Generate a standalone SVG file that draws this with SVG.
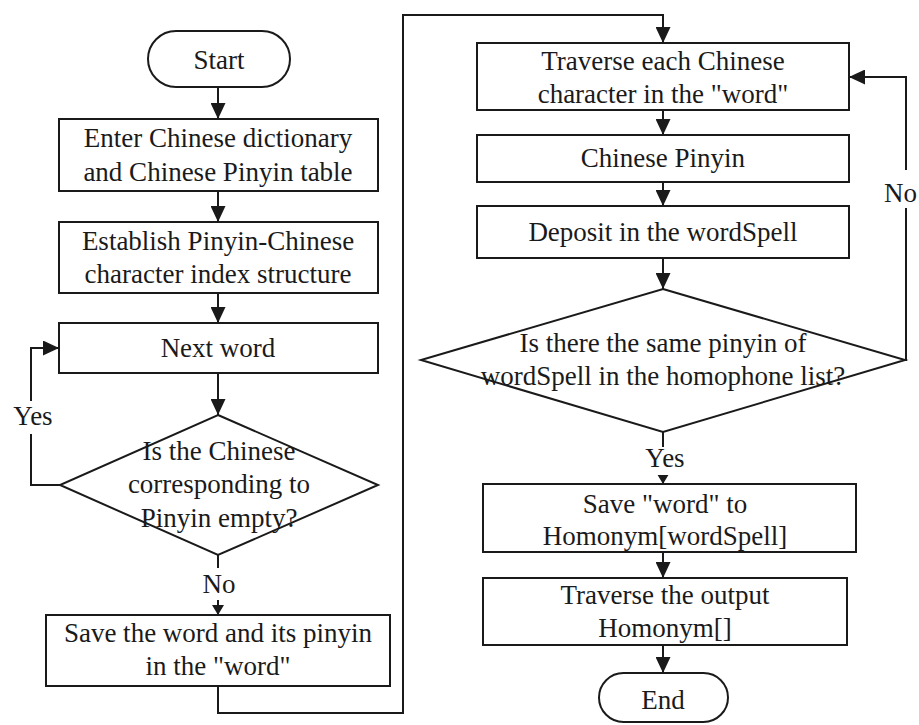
<svg xmlns="http://www.w3.org/2000/svg" width="919" height="725" viewBox="0 0 919 725">
<defs>
<style>
.box{fill:#fff;stroke:#1a1a1a;stroke-width:2}
.ln{fill:none;stroke:#1a1a1a;stroke-width:2}
.t{font-family:"Liberation Serif","Times New Roman",serif;font-size:27px;fill:#1a1a1a;text-anchor:middle}
.lbl{font-family:"Liberation Serif","Times New Roman",serif;font-size:27px;fill:#1a1a1a}
</style>
<marker id="ah" viewBox="0 0 16 15" refX="16" refY="7.5" markerWidth="16" markerHeight="15" orient="auto" markerUnits="userSpaceOnUse">
<path d="M0,0 L16,7.5 L0,15 Z" fill="#1a1a1a"/>
</marker>
<marker id="ahs" viewBox="0 0 10 12" refX="10" refY="6" markerWidth="10" markerHeight="12" orient="auto" markerUnits="userSpaceOnUse">
<path d="M0,0 L10,6 L0,12 Z" fill="#1a1a1a"/>
</marker>
</defs>
<rect width="919" height="725" fill="#fff"/>

<g id="connectors">
<path class="ln" d="M218,87 V119" marker-end="url(#ah)"/>
<path class="ln" d="M218,191 V222" marker-end="url(#ah)"/>
<path class="ln" d="M218,293 V323" marker-end="url(#ah)"/>
<path class="ln" d="M218,373 V415" marker-end="url(#ah)"/>
<path class="ln" d="M60,485 H31 V348 H59" marker-end="url(#ah)"/>
<path class="ln" d="M218,555 V615" marker-end="url(#ahs)"/>
<path class="ln" d="M218,686 V713 H403 V15 H663 V43" marker-end="url(#ah)"/>
<path class="ln" d="M663,110 V135" marker-end="url(#ah)"/>
<path class="ln" d="M663,182 V206" marker-end="url(#ah)"/>
<path class="ln" d="M663,258 V289" marker-end="url(#ah)"/>
<path class="ln" d="M905,360 H906 V77 H849" marker-end="url(#ah)"/>
<path class="ln" d="M663,432 V484" marker-end="url(#ahs)"/>
<path class="ln" d="M663,552 V578" marker-end="url(#ah)"/>
<path class="ln" d="M663,645 V673" marker-end="url(#ah)"/>
<rect x="12" y="401" width="42" height="33" fill="#fff"/>
<text class="lbl" x="33" y="425" text-anchor="middle">Yes</text>
<rect x="200" y="568" width="36" height="32" fill="#fff"/>
<text class="lbl" x="219" y="593" text-anchor="middle">No</text>
<rect x="882" y="170" width="37" height="38" fill="#fff"/>
<text class="lbl" x="884" y="202">No</text>
<rect x="642" y="447" width="46" height="28" fill="#fff"/>
<text class="lbl" x="665" y="467" text-anchor="middle">Yes</text>
</g>

<g id="start">
<rect class="box" x="148" y="31" width="142" height="56" rx="28" ry="28"/>
<text class="t" x="219" y="69">Start</text>
</g>
<g id="enter-dictionary">
<rect class="box" x="59" y="119" width="319" height="72"/>
<text class="t" x="218" y="147">Enter Chinese dictionary</text>
<text class="t" x="218" y="181">and Chinese Pinyin table</text>
</g>
<g id="establish-index">
<rect class="box" x="59" y="222" width="319" height="71"/>
<text class="t" x="218" y="250">Establish Pinyin-Chinese</text>
<text class="t" x="218" y="283">character index structure</text>
</g>
<g id="next-word">
<rect class="box" x="59" y="323" width="319" height="50"/>
<text class="t" x="218" y="357">Next word</text>
</g>
<g id="is-empty">
<polygon class="box" points="218,415 378,485 218,555 60,485"/>
<text class="t" x="219" y="460">Is the Chinese</text>
<text class="t" x="219" y="493">corresponding to</text>
<text class="t" x="219" y="527">Pinyin empty?</text>
</g>
<g id="save-word">
<rect class="box" x="46" y="615" width="344" height="71"/>
<text class="t" x="218" y="642">Save the word and its pinyin</text>
<text class="t" x="218" y="675">in the "word"</text>
</g>
<g id="traverse-each">
<rect class="box" x="477" y="43" width="372" height="67"/>
<text class="t" x="663" y="70">Traverse each Chinese</text>
<text class="t" x="663" y="103">character in the "word"</text>
</g>
<g id="chinese-pinyin">
<rect class="box" x="477" y="135" width="372" height="47"/>
<text class="t" x="663" y="167">Chinese Pinyin</text>
</g>
<g id="deposit">
<rect class="box" x="477" y="206" width="372" height="52"/>
<text class="t" x="663" y="241">Deposit in the wordSpell</text>
</g>
<g id="same-pinyin">
<polygon class="box" points="663,289 905,360 663,432 421,360"/>
<text class="t" x="663" y="352">Is there the same pinyin of</text>
<text class="t" x="663" y="385">wordSpell in the homophone list?</text>
</g>
<g id="save-homonym">
<rect class="box" x="483" y="484" width="373" height="68"/>
<text class="t" x="665" y="513">Save "word" to</text>
<text class="t" x="665" y="545">Homonym[wordSpell]</text>
</g>
<g id="traverse-output">
<rect class="box" x="483" y="578" width="364" height="67"/>
<text class="t" x="665" y="604">Traverse the output</text>
<text class="t" x="665" y="637">Homonym[]</text>
</g>
<g id="end">
<rect class="box" x="599" y="673" width="129" height="49" rx="24.5" ry="24.5"/>
<text class="t" x="663" y="709">End</text>
</g>
</svg>
